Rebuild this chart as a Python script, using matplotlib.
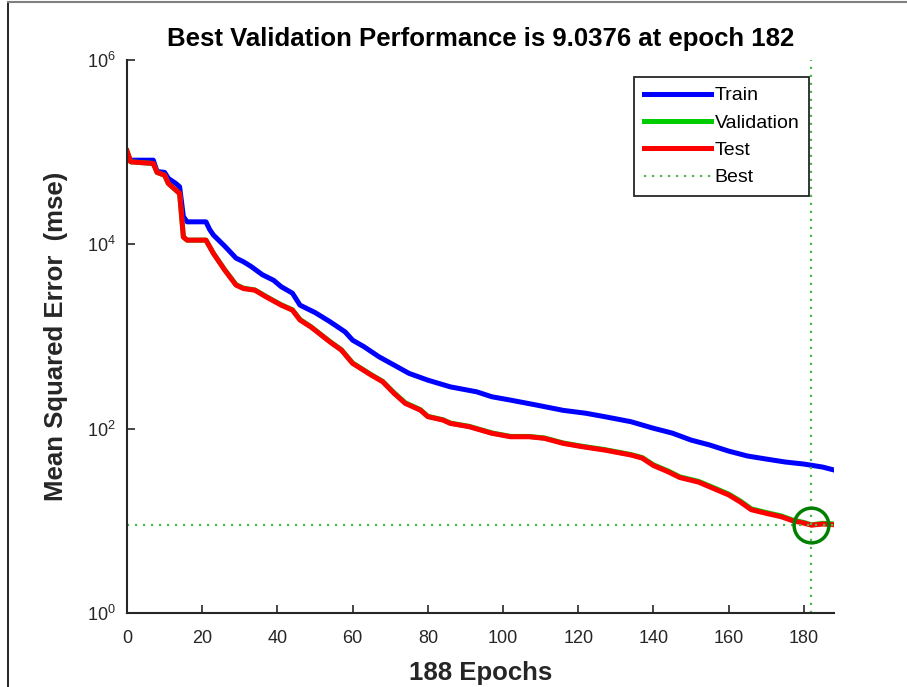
import matplotlib
matplotlib.use("Agg")
import matplotlib.pyplot as plt
from matplotlib.lines import Line2D
from matplotlib.ticker import LogFormatterMathtext, NullLocator

plt.rcParams['font.family'] = ['Liberation Sans', 'DejaVu Sans']
plt.rcParams['mathtext.fontset'] = 'custom'
plt.rcParams['mathtext.rm'] = 'Liberation Sans'

# Training record (epoch, mse) at the points where the curves change slope
train_epochs = [0, 7, 8, 10, 11, 13, 14, 15, 16, 21, 22, 23, 26, 29, 31, 33, 36, 39,
                41, 44, 46, 48, 50, 54, 58, 60, 63, 67, 71, 75, 80, 86, 93, 97, 102,
                109, 116, 122, 127, 134, 140, 145, 150, 155, 160, 165, 170, 175, 180,
                185, 188]
train_mse = [81800, 81800, 61700, 60300, 51900, 45700, 42100, 19950, 17540, 17540,
             14450, 12590, 9550, 7080, 6460, 5750, 4680, 4070, 3470, 2950, 2190, 1995,
             1820, 1445, 1122, 912, 776, 603, 490, 398, 336, 284, 251, 222, 204, 180,
             158, 147, 135, 119, 101, 89.5, 75.2, 66.4, 57.1, 50.5, 46.8, 43.5, 41.3,
             38.3, 35.6]

test_epochs = [0, 1, 7, 8, 10, 11, 14, 15, 16, 21, 23, 26, 29, 31, 34, 37, 41, 44, 46,
               49, 54, 57, 60, 65, 68, 71, 74, 78, 80, 84, 86, 91, 97, 102, 107, 111,
               116, 121, 127, 134, 137, 140, 144, 147, 152, 156, 160, 163, 166, 170,
               174, 177, 180, 182, 185, 188]
test_mse = [103000, 78500, 75300, 60300, 56200, 45700, 35600, 12000, 11100, 11100,
            7940, 5250, 3610, 3310, 3180, 2690, 2190, 1930, 1510, 1260, 871, 713, 511,
            380, 323, 242, 188, 159, 135, 124, 114, 105, 89.1, 81.7, 81.7, 78.5, 69.2,
            63.8, 58.6, 51.8, 47.9, 39.8, 33.9, 29.5, 26.3, 22.4, 19.1, 16.1, 13.2,
            12.05, 11.07, 10.02, 9.44, 8.98, 9.23, 9.08]

val_epochs = test_epochs
val_mse = [103000, 78500, 75300, 60300, 56200, 45700, 35600, 12000, 11100, 11100,
           7990, 5300, 3650, 3340, 3200, 2720, 2210, 1950, 1530, 1270, 880, 720, 516,
           384, 326, 246, 191, 161, 136, 125, 115, 106, 90.0, 82.4, 82.3, 79.3, 70.0,
           64.5, 59.3, 52.4, 48.6, 40.5, 34.6, 30.0, 26.8, 22.9, 19.5, 16.5, 13.5,
           12.3, 11.3, 10.2, 9.60, 9.0376, 9.40, 9.25]

best_epoch = 182
best_perf = 9.0376
n_epochs = 188

fig = plt.figure(figsize=(9.07, 6.87), dpi=100)
ax = fig.add_axes([0.140, 0.1077, 0.7795, 0.805])

ax.semilogy(train_epochs, train_mse, color=(0, 0, 1), lw=3.6, label='Train',
            solid_joinstyle='round')
ax.semilogy(val_epochs, val_mse, color=(0, 0.8, 0), lw=3.6, label='Validation',
            solid_joinstyle='round')
ax.semilogy(test_epochs, test_mse, color=(1, 0, 0), lw=3.6, label='Test',
            solid_joinstyle='round')

best_color = (0.3, 0.72, 0.3)
ax.axvline(best_epoch, color=best_color, lw=1.6, ls=(0, (1, 2.6)), label='Best')
ax.axhline(best_perf, color=best_color, lw=1.6, ls=(0, (1, 2.6)))
ax.plot([best_epoch], [best_perf], 'o', ms=25, mfc='none', mec=(0, 0.5, 0), mew=2.5)

ax.set_xlim(0, n_epochs)
ax.set_ylim(1, 1e6)
ax.set_xticks(range(0, 181, 20))
ax.set_yticks([1, 1e2, 1e4, 1e6])
ax.yaxis.set_major_formatter(LogFormatterMathtext())
ax.yaxis.set_minor_locator(NullLocator())

for side in ('top', 'right'):
    ax.spines[side].set_visible(False)
for side in ('left', 'bottom'):
    ax.spines[side].set_color('#262626')
    ax.spines[side].set_linewidth(1.5)
ax.tick_params(direction='in', length=6, width=1.2, color='#262626',
               labelsize=13, labelcolor='#262626')
ax.tick_params(axis='x', pad=12)
ax.tick_params(axis='y', pad=8)

ax.set_title('Best Validation Performance is %.4f at epoch %d' % (best_perf, best_epoch),
             fontsize=18.5, fontweight='bold', pad=10)
ax.set_xlabel('%d Epochs' % n_epochs, fontsize=18.5, fontweight='bold', color='#262626',
              labelpad=10)
ax.set_ylabel('Mean Squared Error  (mse)', fontsize=18.5, fontweight='bold',
              color='#262626', labelpad=14)

leg = ax.legend(loc='upper left', bbox_to_anchor=(0.717, 0.969), fontsize=14,
                fancybox=False, framealpha=1, edgecolor='#262626',
                handlelength=3.45, handletextpad=0.2, labelspacing=0.5,
                borderpad=0.5, borderaxespad=0)
leg.get_frame().set_linewidth(1.3)

# page frame
fig.add_artist(Line2D([8 / 907, 8 / 907], [0, 1 - 2 / 687], color='black', lw=1.2))
fig.add_artist(Line2D([8 / 907, 1], [1 - 2 / 687, 1 - 2 / 687], color='#808080', lw=1.5))

fig.savefig('out.png', dpi=100)
